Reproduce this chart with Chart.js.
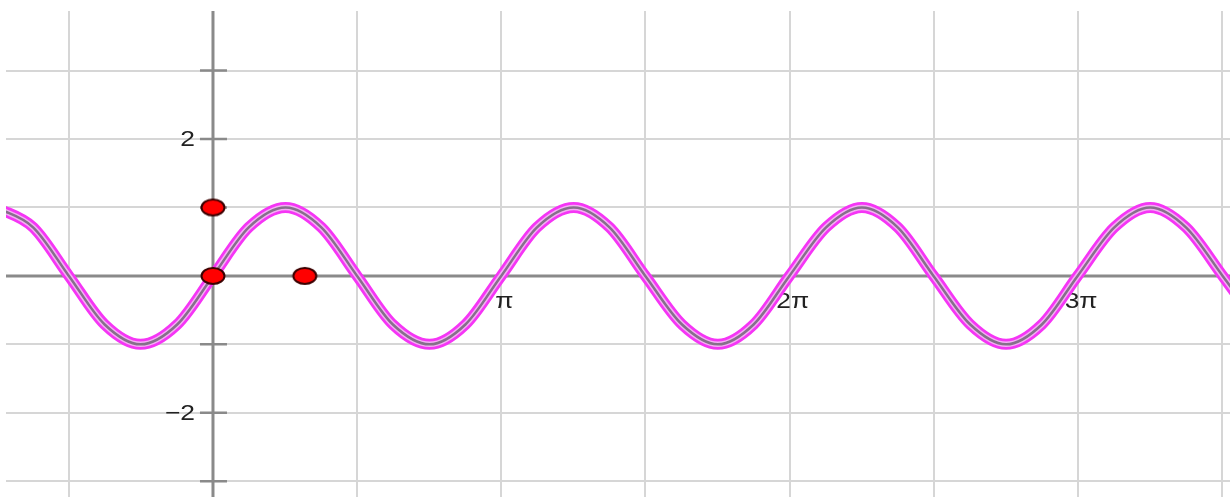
<!DOCTYPE html>
<html>
<head>
<meta charset="utf-8">
<script src="https://cdn.jsdelivr.net/npm/chart.js@4.4.1/dist/chart.umd.min.js"></script>
<style>
html, body { margin: 0; padding: 0; background: #fff; overflow: hidden; }
#wrap { width: 1230px; height: 497px; position: relative; overflow: hidden; }
#graph { display: block; }
</style>
</head>
<body>
<div id="wrap"><canvas id="graph"></canvas></div>
<script>
var curveX = [-2.36, -1.96, -1.57, -1.18, -0.79, -0.39, 0, 0.39, 0.79, 1.18, 1.57, 1.96,
              2.36, 2.75, 3.14, 3.53, 3.93, 4.32, 4.71, 5.11, 5.50, 5.89, 6.28, 6.68,
              7.07, 7.46, 7.85, 8.25, 8.64, 9.03, 9.42, 9.82, 10.21, 10.60, 11.00, 11.39];
var curveY = [1, 0.71, 0, -0.71, -1, -0.71, 0, 0.71, 1, 0.71, 0, -0.71,
              -1, -0.71, 0, 0.71, 1, 0.71, 0, -0.71, -1, -0.71, 0, 0.71,
              1, 0.71, 0, -0.71, -1, -0.71, 0, 0.71, 1, 0.71, 0, -0.71];

// red points
var dotX = [0, 0, 1];
var dotY = [1, 0, 0];

// grid lines (x every pi/2, y every 1)
var xGridValues = [-1.571, 0, 1.571, 3.142, 4.712, 6.283, 7.854, 9.425, 10.996];
var yGridValues = [-3, -2, -1, 0, 1, 2, 3];

// tick labels
var xTickValues = [3.142, 6.283, 9.425];
var xTickLabels = ['π', '2π', '3π'];
var yTickValues = [2, -2];
var yTickLabels = ['2', '−2'];
var yTickMarks = [-3, -2, -1, 1, 2, 3];

var curvePoints = curveX.map(function (x, i) { return {x: x, y: curveY[i]}; });
var dotPoints = dotX.map(function (x, i) { return {x: x, y: dotY[i]}; });

// elliptical red dot, like the picture
var dotImg = document.createElement('canvas');
dotImg.width = 28;
dotImg.height = 20;
(function () {
    var c = dotImg.getContext('2d');
    c.beginPath();
    c.ellipse(14, 10, 11.5, 8, 0, 0, Math.PI * 2);
    c.fillStyle = '#ff0000';
    c.fill();
    c.lineWidth = 2;
    c.strokeStyle = '#3a0000';
    c.stroke();
})();

function curveLayer(color, width, order) {
    return {
        data: curvePoints,
        borderColor: color,
        borderWidth: width,
        pointRadius: 0,
        fill: false,
        cubicInterpolationMode: 'monotone',
        order: order
    };
}

//Axes, tick marks and labels drawn under the curve
var axesOverlay = {
    id: 'axesOverlay',
    beforeDatasetsDraw: function (chart) {
        var ctx = chart.ctx;
        var area = chart.chartArea;
        var xs = chart.scales.x;
        var ys = chart.scales.y;
        var x0 = xs.getPixelForValue(0);
        var y0 = ys.getPixelForValue(0);

        ctx.save();
        ctx.strokeStyle = '#8a8a8a';
        ctx.lineWidth = 3;
        ctx.beginPath();
        ctx.moveTo(area.left, y0);
        ctx.lineTo(area.right, y0);
        ctx.moveTo(x0, area.top);
        ctx.lineTo(x0, area.bottom);
        ctx.stroke();

        ctx.lineWidth = 2.5;
        ctx.beginPath();
        yTickMarks.forEach(function (v) {
            var py = ys.getPixelForValue(v);
            ctx.moveTo(x0 - 13, py);
            ctx.lineTo(x0 + 14, py);
        });
        ctx.stroke();

        ctx.fillStyle = '#222';
        ctx.font = '22px "Liberation Sans", Arial, sans-serif';
        ctx.textBaseline = 'alphabetic';

        yTickValues.forEach(function (v, i) {
            var py = ys.getPixelForValue(v);
            ctx.save();
            ctx.translate(x0 - 18, py + 7);
            ctx.scale(1.2, 1);
            ctx.textAlign = 'right';
            ctx.fillText(yTickLabels[i], 0, 0);
            ctx.restore();
        });

        xTickValues.forEach(function (v, i) {
            var px = xs.getPixelForValue(v);
            ctx.save();
            ctx.translate(px + 3, y0 + 32);
            ctx.scale(1.2, 1);
            ctx.textAlign = 'center';
            ctx.fillText(xTickLabels[i], 0, 0);
            ctx.restore();
        });
        ctx.restore();
    }
};

var graph = new Chart(document.getElementById('graph'), {
    type: 'line',
    data: {
        datasets: [
            {
                type: 'scatter',
                data: dotPoints,
                pointStyle: dotImg,
                pointRadius: 10,
                showLine: false,
                order: 0
            },
            curveLayer('#85708a', 2.5, 1),
            curveLayer('#f3b0f3', 5.5, 2),
            curveLayer('#f535f5', 11, 3)
        ]
    },
    options: {
        responsive: true,
        maintainAspectRatio: false,
        animation: false,
        layout: {
            autoPadding: false,
            padding: {left: 6, top: 11, right: 0, bottom: 0}
        },
        plugins: {
            legend: {display: false},
            tooltip: {enabled: false}
        },
        scales: {
            x: {
                type: 'linear',
                min: -2.255,
                max: 11.08,
                afterBuildTicks: function (scale) {
                    scale.ticks = xGridValues.map(function (v) { return {value: v}; });
                },
                ticks: {display: false},
                border: {display: false},
                grid: {color: '#d6d6d6', lineWidth: 2, drawTicks: false}
            },
            y: {
                type: 'linear',
                min: -3.23,
                max: 3.87,
                afterBuildTicks: function (scale) {
                    scale.ticks = yGridValues.map(function (v) { return {value: v}; });
                },
                ticks: {display: false},
                border: {display: false},
                grid: {color: '#d6d6d6', lineWidth: 2, drawTicks: false}
            }
        }
    },
    plugins: [axesOverlay]
});
</script>
</body>
</html>
